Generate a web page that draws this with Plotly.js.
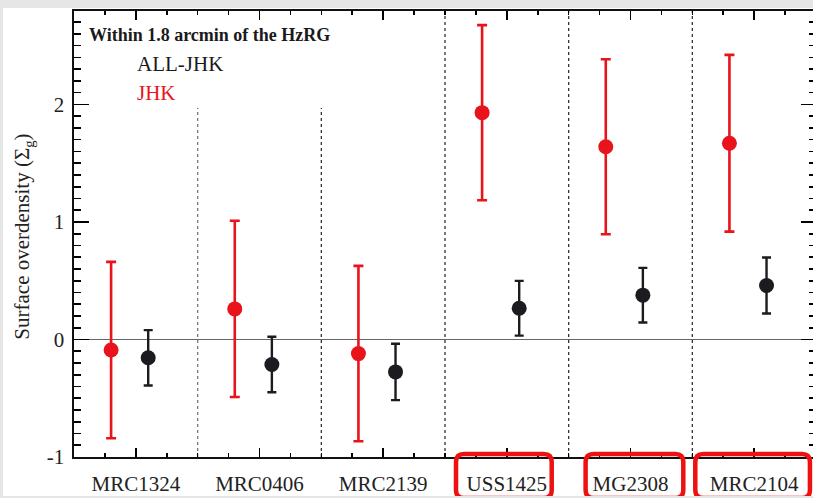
<!DOCTYPE html>
<html>
<head>
<meta charset="utf-8">
<script src="https://cdn.plot.ly/plotly-3.0.1.min.js"></script>
<style>
  html, body { margin: 0; padding: 0; background: #e6e6e6; overflow: hidden; width: 813px; height: 498px; }
  #chart { position: absolute; left: 3px; top: 8px; width: 822px; height: 488px; background: #fff; }
</style>
</head>
<body>
<div id="chart"></div>
<script>
// ---- data ----
const categories = ['MRC1324', 'MRC0406', 'MRC2139', 'USS1425', 'MG2308', 'MRC2104'];
const jhkValues   = [-0.09, 0.26, -0.12, 1.93, 1.64, 1.67];
const jhkErrors   = [0.75, 0.75, 0.746, 0.745, 0.745, 0.752];
const allValues   = [-0.156, -0.213, -0.276, 0.266, 0.377, 0.459];
const allErrors   = [0.236, 0.236, 0.24, 0.233, 0.232, 0.238];
const yTickVals   = [-1, 0, 1, 2];
const yTickText   = ['-1', '0', '1', '2'];
const highlighted = ['USS1425', 'MG2308', 'MRC2104'];

// ---- layout helpers ----
const jhkOffset = 0.3, allOffset = 0.6;
const RED = '#e8131b', BLK = '#1b1b20';
const FONT = 'Liberation Serif, Times New Roman, serif';
const X_RANGE = [0, categories.length];
const Y_RANGE = [-1, 2.795];

const xJhk = categories.map((c, i) => i + jhkOffset);
const xAll = categories.map((c, i) => i + allOffset);
const xCenters = categories.map((c, i) => i + 0.5);

const traces = [
  {
    x: xJhk, y: jhkValues, type: 'scatter', mode: 'markers', name: 'JHK',
    marker: { color: RED, size: 15 },
    error_y: { type: 'data', array: jhkErrors, visible: true, color: RED, thickness: 2.6, width: 5 }
  },
  {
    x: xAll, y: allValues, type: 'scatter', mode: 'markers', name: 'ALL-JHK',
    marker: { color: BLK, size: 15 },
    error_y: { type: 'data', array: allErrors, visible: true, color: BLK, thickness: 2.4, width: 4.5 }
  },
  // invisible copy on the overlay axes, so that the minor-tick axes get drawn
  { x: xAll, y: allValues, type: 'scatter', mode: 'markers', xaxis: 'x2', yaxis: 'y2',
    marker: { opacity: 0 }, hoverinfo: 'skip' }
];

const shapes = [];
for (let i = 1; i < categories.length; i++) {
  const short = i <= 2;
  shapes.push({
    type: 'line', xref: 'x', x0: i, x1: i,
    yref: short ? 'y' : 'paper', y0: short ? -1 : 0, y1: short ? 1.97 : 1,
    line: { color: i === 1 ? '#777' : '#333', width: 1.3, dash: 'dot' }, layer: 'below'
  });
}
// rounded red boxes around highlighted labels
const boxSpans = { 'USS1425': [0.089, 0.863], 'MG2308': [0.137, 0.927], 'MRC2104': [0.024, 0.951] };
const yTop = 0.0067, yBot = -0.092, rx = 0.065, ry = 0.018;
highlighted.forEach(name => {
  const i = categories.indexOf(name);
  const a = i + boxSpans[name][0], b = i + boxSpans[name][1];
  const p = `M ${a + rx},${yTop} L ${b - rx},${yTop} Q ${b},${yTop} ${b},${yTop - ry} ` +
            `L ${b},${yBot + ry} Q ${b},${yBot} ${b - rx},${yBot} L ${a + rx},${yBot} ` +
            `Q ${a},${yBot} ${a},${yBot + ry} L ${a},${yTop - ry} Q ${a},${yTop} ${a + rx},${yTop} Z`;
  shapes.push({ type: 'path', xref: 'x', yref: 'paper', path: p, line: { color: '#ee1111', width: 4.5 }, layer: 'above' });
});

const annotations = [
  { xref: 'paper', yref: 'paper', x: 0.0175, y: 0.946, xanchor: 'left', yanchor: 'middle', showarrow: false,
    text: '<b>Within 1.8 arcmin of the HzRG</b>', font: { family: FONT, size: 18, color: '#1a1a1a' } },
  { xref: 'paper', yref: 'paper', x: 0.082, y: 0.881, xanchor: 'left', yanchor: 'middle', showarrow: false,
    text: 'ALL-JHK', font: { family: FONT, size: 21, color: '#1a1a1a' } },
  { xref: 'paper', yref: 'paper', x: 0.082, y: 0.816, xanchor: 'left', yanchor: 'middle', showarrow: false,
    text: 'JHK', font: { family: FONT, size: 21, color: RED } },
  { xref: 'paper', yref: 'paper', x: -0.068, y: 0.493, xanchor: 'center', yanchor: 'middle', showarrow: false,
    textangle: -90, text: 'Surface overdensity (Σ<sub>g</sub>)', font: { family: FONT, size: 21, color: '#222' } }
];

const layout = {
  width: 822, height: 488,
  margin: { l: 71, r: 9, t: 3, b: 39 },
  paper_bgcolor: '#fff', plot_bgcolor: '#fff',
  showlegend: false,
  font: { family: FONT, size: 21, color: '#222' },
  xaxis: {
    range: X_RANGE, tickmode: 'array', tickvals: xCenters, ticktext: categories,
    ticks: 'inside', ticklen: 9, tickwidth: 1.6, tickcolor: '#000',
    showline: true, linecolor: '#111', linewidth: 1.6, mirror: 'allticks',
    showgrid: false, zeroline: false, ticklabelstandoff: 7,
    tickfont: { family: FONT, size: 21, color: '#222' }
  },
  yaxis: {
    range: Y_RANGE, tickmode: 'array', tickvals: yTickVals, ticktext: yTickText,
    ticks: 'inside', ticklen: 15, tickwidth: 1.6, tickcolor: '#000',
    showline: true, linecolor: '#111', linewidth: 1.6, mirror: 'allticks',
    showgrid: false, zeroline: true, zerolinecolor: '#666', zerolinewidth: 1.5,
    ticklabelstandoff: 4,
    tickfont: { family: FONT, size: 21, color: '#222' }
  },
  // overlay axes that only carry the minor ticks
  xaxis2: {
    overlaying: 'x', anchor: 'y2', side: 'bottom', range: X_RANGE,
    tickmode: 'linear', tick0: 0, dtick: 0.25,
    ticks: 'inside', ticklen: 4, tickwidth: 1.6, tickcolor: '#000',
    showticklabels: false, showline: false, mirror: 'ticks', showgrid: false, zeroline: false
  },
  yaxis2: {
    overlaying: 'y', anchor: 'x2', side: 'left', range: Y_RANGE,
    tickmode: 'linear', tick0: 0, dtick: 0.1,
    ticks: 'inside', ticklen: 7, tickwidth: 1.6, tickcolor: '#000',
    showticklabels: false, showline: false, mirror: 'ticks', showgrid: false, zeroline: false
  },
  shapes: shapes,
  annotations: annotations
};

Plotly.newPlot('chart', traces, layout, { displayModeBar: false, staticPlot: true });
</script>
</body>
</html>
